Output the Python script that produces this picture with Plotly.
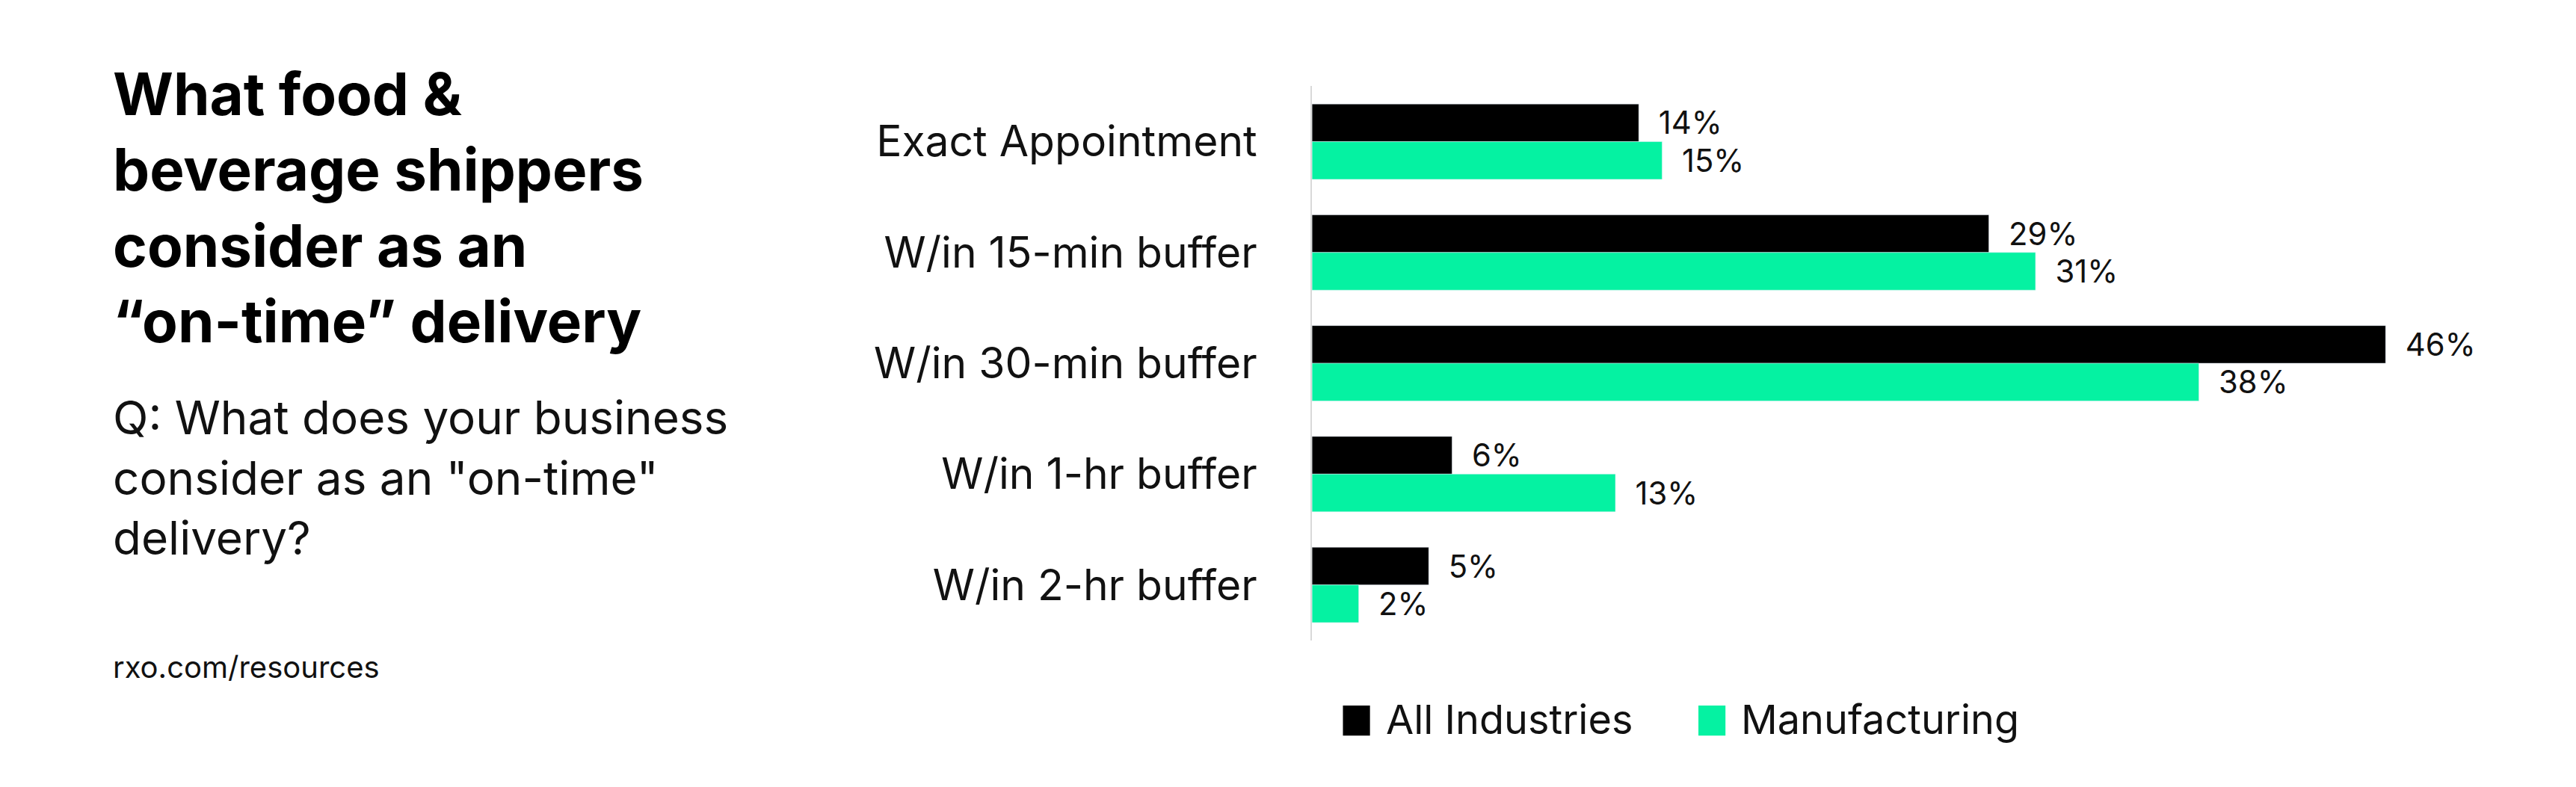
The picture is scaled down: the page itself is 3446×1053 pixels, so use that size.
import plotly.graph_objects as go

categories = ["Exact Appointment", "W/in 15-min buffer", "W/in 30-min buffer",
              "W/in 1-hr buffer", "W/in 2-hr buffer"]
all_industries = [14, 29, 46, 6, 5]
manufacturing = [15, 31, 38, 13, 2]
series_names = ["All Industries", "Manufacturing"]

FONT = "Inter"
BLACK = "#000000"
GREEN = "#05F2A2"
colors = [BLACK, GREEN]

fig = go.Figure()
for name, vals, col in zip(series_names, [all_industries, manufacturing], colors):
    fig.add_trace(go.Bar(
        y=categories, x=vals, orientation="h", name=name, showlegend=False,
        marker_color=col, text=[f"  {v}%" for v in vals],
        textposition="outside", textfont=dict(size=58, color="#111111", family=FONT),
        cliponaxis=False,
    ))

fig.update_layout(
    width=3446, height=1053,
    paper_bgcolor="white", plot_bgcolor="white",
    margin=dict(l=0, r=0, t=0, b=0),
    barmode="group", bargap=0.32, bargroupgap=0,
    font=dict(family=FONT, color="#111111"),
    xaxis=dict(domain=[0.507, 0.96], range=[0, 50], visible=False),
    yaxis=dict(domain=[0.194, 0.898], autorange="reversed",
               showline=True, linecolor="#d9d9d9", linewidth=2,
               ticks="", ticklabelstandoff=60,
               tickfont=dict(size=57, color="#111111", family=FONT)),
    showlegend=False,
)

# custom legend (large square swatches)
legend_x = [0.519, 0.657]
for name, col, lx in zip(series_names, colors, legend_x):
    fig.add_shape(type="rect", xref="paper", yref="paper",
                  x0=lx, x1=lx + 0.0105, y0=0.073, y1=0.111,
                  fillcolor=col, line_width=0)
    fig.add_annotation(xref="paper", yref="paper", x=lx + 0.016, y=0.094,
                       xanchor="left", yanchor="middle", showarrow=False, text=name,
                       font=dict(size=54, family=FONT, color="#111111"))

fig.add_annotation(
    xref="paper", yref="paper", x=0.041, y=0.935, xanchor="left", yanchor="top",
    align="left", showarrow=False,
    text="<b>What food &<br>beverage shippers<br>consider as an<br>“on-time” delivery</b>",
    font=dict(size=78, family=FONT, color="#000000", weight=800),
)
fig.add_annotation(
    xref="paper", yref="paper", x=0.041, y=0.515, xanchor="left", yanchor="top",
    align="left", showarrow=False,
    text="Q: What does your business<br>consider as an \"on-time\"<br>delivery?",
    font=dict(size=62, family=FONT, color="#111111"),
)
fig.add_annotation(
    xref="paper", yref="paper", x=0.041, y=0.16, xanchor="left", yanchor="middle",
    align="left", showarrow=False, text="rxo.com/resources",
    font=dict(size=40, family=FONT, color="#111111"),
)

fig.write_html("out.html")
